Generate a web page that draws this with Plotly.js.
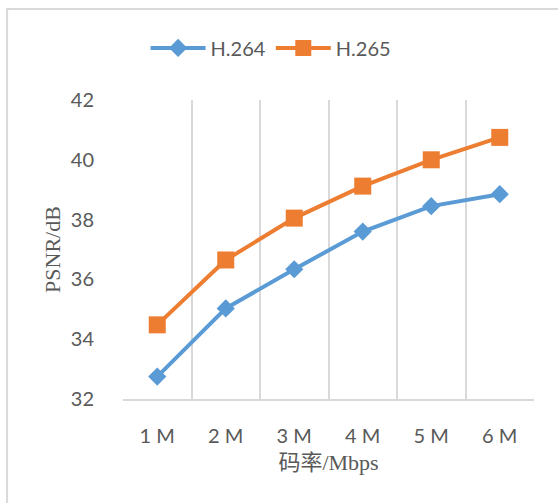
<!DOCTYPE html>
<html>
<head>
<meta charset="utf-8">
<script src="https://cdn.plot.ly/plotly-3.0.1.min.js"></script>
<style>
  html, body { margin: 0; padding: 0; background: #fff; }
  #chart { width: 558px; height: 503px; }
</style>
</head>
<body>
<div id="chart"></div>
<script>
// Bitrate categories and PSNR (dB) for the two codecs
const bitrates = ["1 M", "2 M", "3 M", "4 M", "5 M", "6 M"];
const psnrH264 = [32.75, 35.03, 36.34, 37.6, 38.45, 38.85];
const psnrH265 = [34.48, 36.65, 38.05, 39.12, 40.0, 40.75];

const sansFont = "Lato, 'Open Sans', sans-serif";
const serifFont = "'Liberation Serif', 'Noto Sans CJK SC', serif";
const textGray = "#595959";
const gridGray = "#D9D9D9";

const traces = [
  {
    x: bitrates, y: psnrH264, name: "H.264",
    type: "scatter", mode: "lines+markers",
    line: { color: "#5B9BD5", width: 4 },
    marker: { symbol: "diamond", size: 14, color: "#5B9BD5" }
  },
  {
    x: bitrates, y: psnrH265, name: "H.265",
    type: "scatter", mode: "lines+markers",
    line: { color: "#ED7D31", width: 4 },
    marker: { symbol: "square", size: 17, color: "#ED7D31" }
  }
];

const layout = {
  width: 558, height: 503,
  margin: { l: 123, r: 24, t: 100, b: 104 },
  paper_bgcolor: "#fff", plot_bgcolor: "#fff",
  font: { family: sansFont, size: 20, color: textGray },
  showlegend: true,
  legend: {
    orientation: "h", x: 0.055, xanchor: "left", y: 1.174, yanchor: "middle",
    font: { family: sansFont, size: 20, color: textGray },
    itemwidth: 55
  },
  xaxis: {
    type: "category",
    range: [-0.5, 5.5],
    tickson: "boundaries",
    ticks: "",
    showgrid: true, gridcolor: gridGray, gridwidth: 2,
    showline: true, linecolor: gridGray, linewidth: 2,
    zeroline: false,
    ticklabelstandoff: 18,
    tickfont: { family: sansFont, size: 20, color: textGray },
    title: { text: "码率/Mbps", font: { family: serifFont, size: 22, color: textGray }, standoff: 9 }
  },
  yaxis: {
    range: [32, 42],
    dtick: 2,
    ticks: "",
    showgrid: false,
    showline: false,
    zeroline: false,
    ticklabelstandoff: 28,
    tickfont: { family: sansFont, size: 20, color: textGray },
    title: { text: "PSNR/dB", font: { family: serifFont, size: 22, color: textGray }, standoff: 4 }
  },
  shapes: [
    {
      type: "rect", xref: "paper", yref: "paper",
      x0: -0.282, x1: 1.08, y0: -0.4, y1: 1.304,
      line: { color: gridGray, width: 2 }, fillcolor: "rgba(0,0,0,0)", layer: "below"
    }
  ]
};

Plotly.newPlot("chart", traces, layout, { displayModeBar: false, staticPlot: true });
</script>
</body>
</html>
